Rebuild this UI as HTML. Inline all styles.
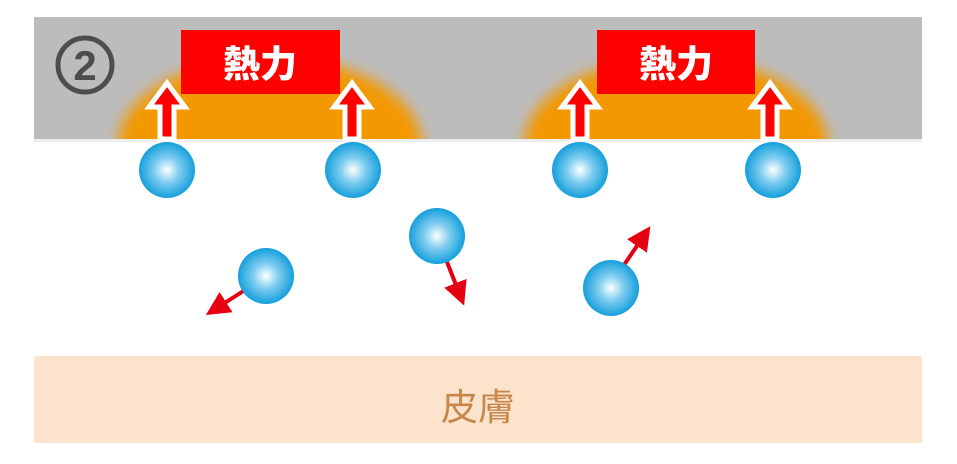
<!DOCTYPE html>
<html><head><meta charset="utf-8"><style>html,body{margin:0;padding:0;background:#fff}</style></head><body>
<svg width="957" height="459" xmlns="http://www.w3.org/2000/svg">
<defs>
<radialGradient id="ball" cx="0.5" cy="0.5" r="0.5">
<stop offset="0" stop-color="#ffffff"/><stop offset="0.45" stop-color="#7fcdf0"/><stop offset="1" stop-color="#159fdb"/></radialGradient>
<filter id="blur" x="-20%" y="-20%" width="140%" height="140%"><feGaussianBlur stdDeviation="7"/></filter>
<clipPath id="band"><rect x="34" y="17" width="888" height="122"/></clipPath>
<marker id="ah" viewBox="0 0 10 10" refX="3" refY="5" markerWidth="6" markerHeight="6" orient="auto"><path d="M0,0 L10,5 L0,10 z" fill="#e60012"/></marker>
</defs>
<rect x="34" y="17" width="888" height="122" fill="#bcbcbd"/>
<rect x="34" y="139" width="888" height="3" fill="#eeeeee"/>
<g clip-path="url(#band)">
<ellipse cx="270" cy="145" rx="152" ry="88" fill="#f39800" filter="url(#blur)"/>
<ellipse cx="676" cy="145" rx="152" ry="88" fill="#f39800" filter="url(#blur)"/>
</g>
<circle cx="85" cy="65" r="27" fill="none" stroke="#4d4d4d" stroke-width="5"/>
<text x="85" y="80" font-family="Liberation Sans, sans-serif" font-weight="bold" font-size="42" fill="#4d4d4d" text-anchor="middle">2</text>
<rect x="181" y="30" width="159" height="64" fill="#ff0000"/>
<rect x="597" y="30" width="158" height="64" fill="#ff0000"/>
<text x="260" y="77" font-family="Liberation Sans, 'Noto Sans CJK JP', sans-serif" font-weight="900" font-size="37" fill="#fff" text-anchor="middle">熱力</text>
<text x="676" y="77" font-family="Liberation Sans, 'Noto Sans CJK JP', sans-serif" font-weight="900" font-size="37" fill="#fff" text-anchor="middle">熱力</text>
<g fill="#ff0000" stroke="#fff" stroke-width="5" stroke-linejoin="miter">
<path d="M-7,139 L-7,107 L-18,107 L0,83 L18,107 L7,107 L7,139 Z" transform="translate(167,0)"/>
<path d="M-7,139 L-7,107 L-18,107 L0,83 L18,107 L7,107 L7,139 Z" transform="translate(352,0)"/>
<path d="M-7,139 L-7,107 L-18,107 L0,83 L18,107 L7,107 L7,139 Z" transform="translate(580,0)"/>
<path d="M-7,139 L-7,107 L-18,107 L0,83 L18,107 L7,107 L7,139 Z" transform="translate(770,0)"/>
</g>
<g stroke="#e60012" stroke-width="4" marker-end="url(#ah)">
<line x1="245" y1="290" x2="220" y2="306"/>
<line x1="447" y1="262" x2="458" y2="290"/>
<line x1="624" y1="265" x2="641" y2="240"/>
</g>
<g fill="url(#ball)">
<circle cx="167" cy="170" r="28"/><circle cx="353" cy="170" r="28"/>
<circle cx="580" cy="170" r="28"/><circle cx="773" cy="170" r="28"/>
<circle cx="266" cy="276" r="28"/><circle cx="437" cy="236" r="28"/>
<circle cx="611" cy="288" r="28"/>
</g>
<rect x="34" y="356" width="888" height="87" fill="#fbe3cc"/>
<text x="478" y="420" font-family="Liberation Sans, 'Noto Sans CJK JP', sans-serif" font-size="37" fill="#c9864a" text-anchor="middle">皮膚</text>
</svg>
</body></html>
